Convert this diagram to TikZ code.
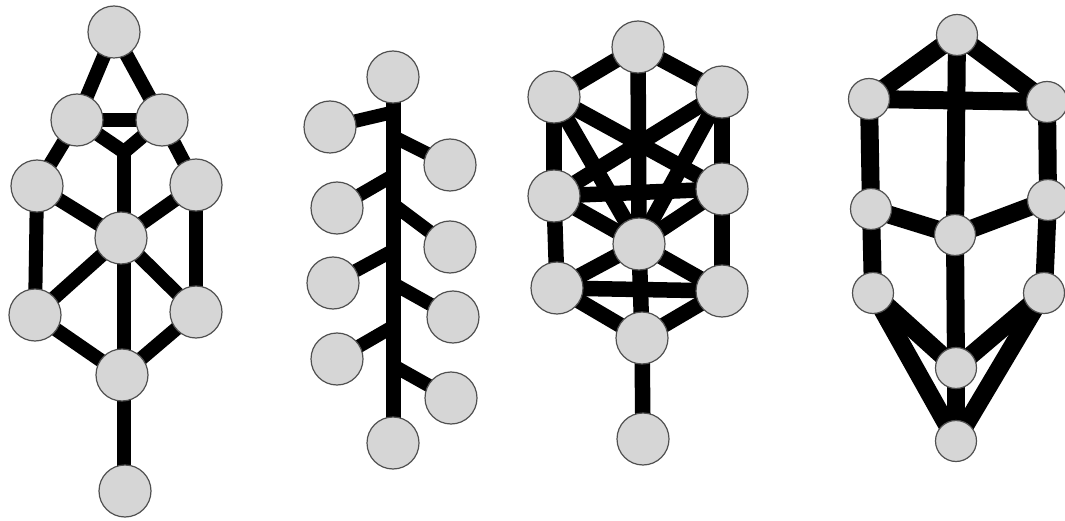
\documentclass[tikz,border=0pt]{standalone}
\usetikzlibrary{backgrounds}
\definecolor{nodefill}{RGB}{214,214,214}
\definecolor{nodeline}{RGB}{80,80,80}
\tikzset{
  ball/.style={circle,fill=nodefill,draw=nodeline,line width=1.2pt,inner sep=0pt,outer sep=0pt,minimum size=52pt},
  smallball/.style={ball,minimum size=41pt},
  edge/.style={line width=14pt,black},
  edgeC/.style={line width=15.5pt,black},
  edgeD/.style={line width=18pt,black},
  branch/.style={line width=13.5pt,black},
  trunk/.style={line width=15pt,black},
}
\begin{document}
\begin{tikzpicture}[x=1pt,y=-1pt]
\useasboundingbox (0,0) rectangle (1065,521);
% ---------- Diagram 1 ----------
\node[ball] (a-t)  at (114,32) {};
\node[ball] (a-ul) at (77,120) {};
\node[ball] (a-ur) at (162,120) {};
\node[ball] (a-ml) at (37,186) {};
\node[ball] (a-mr) at (196,185) {};
\node[ball] (a-c)  at (121,238) {};
\node[ball] (a-ll) at (35,315) {};
\node[ball] (a-lr) at (196,312) {};
\node[ball] (a-bm) at (122,375) {};
\node[ball] (a-b)  at (125,491) {};
\coordinate (a-j) at (124,152);
\coordinate (a-k) at (124,375);
\coordinate (a-m) at (124,480);
% ---------- Diagram 2 ----------
\node[ball] (b-t)  at (393,77) {};
\node[ball] (b-l1) at (330,127) {};
\node[ball] (b-r1) at (450,165) {};
\node[ball] (b-l2) at (337,208) {};
\node[ball] (b-r2) at (450,247) {};
\node[ball] (b-l3) at (333,283) {};
\node[ball] (b-r3) at (453,317) {};
\node[ball] (b-l4) at (337,359) {};
\node[ball] (b-r4) at (451,398) {};
\node[ball] (b-b)  at (393,443) {};
\coordinate (b-p1) at (394,112);
\coordinate (b-p2) at (394,137);
\coordinate (b-p3) at (394,175);
\coordinate (b-p4) at (394,205);
\coordinate (b-p5) at (394,250);
\coordinate (b-p6) at (394,284);
\coordinate (b-p7) at (394,326);
\coordinate (b-p8) at (394,366);
% ---------- Diagram 3 ----------
\node[ball] (c-t)  at (638,47) {};
\node[ball] (c-ul) at (554,97) {};
\node[ball] (c-ur) at (722,92) {};
\node[ball] (c-ml) at (554,196) {};
\node[ball] (c-mr) at (722,189) {};
\node[ball] (c-c)  at (639,244) {};
\node[ball] (c-ll) at (557,288) {};
\node[ball] (c-lr) at (722,291) {};
\node[ball] (c-bm) at (642,338) {};
\node[ball] (c-b)  at (643,439) {};
% ---------- Diagram 4 ----------
\node[smallball] (d-t)  at (957,35) {};
\node[smallball] (d-ul) at (869,99) {};
\node[smallball] (d-ur) at (1047,102) {};
\node[smallball] (d-ml) at (871,209) {};
\node[smallball] (d-mr) at (1048,200) {};
\node[smallball] (d-c)  at (955,235) {};
\node[smallball] (d-ll) at (873,293) {};
\node[smallball] (d-lr) at (1044,293) {};
\node[smallball] (d-bm) at (956,368) {};
\node[smallball] (d-b)  at (956,441) {};
\begin{pgfonlayer}{background}
% Diagram 1 edges
\draw[edge] (a-t.center) -- (a-ul.center);
\draw[edge] (a-t.center) -- (a-ur.center);
\draw[edge] (a-ul.center) -- (a-ur.center);
\draw[edge] (a-ul.center) -- (a-ml.center);
\draw[edge] (a-ur.center) -- (a-mr.center);
\draw[edge,line join=miter] (a-ul.center) -- (a-j) -- (a-ur.center);
\draw[edge] (a-j) -- (a-k);
\draw[edge] (a-ml.center) -- (a-c.center);
\draw[edge] (a-mr.center) -- (a-c.center);
\draw[edge] (a-ml.center) -- (a-ll.center);
\draw[edge] (a-mr.center) -- (a-lr.center);
\draw[edge] (a-c.center) -- (a-ll.center);
\draw[edge] (a-c.center) -- (a-lr.center);
\draw[edge] (a-ll.center) -- (a-bm.center);
\draw[edge] (a-lr.center) -- (a-bm.center);
\draw[edge] (a-k) -- (a-m);
% Diagram 2 edges
\draw[trunk] (b-t.center) -- (b-b.center);
\draw[branch] (b-l1.center) -- (b-p1);
\draw[branch] (b-p2) -- (b-r1.center);
\draw[branch] (b-l2.center) -- (b-p3);
\draw[branch] (b-p4) -- (b-r2.center);
\draw[branch] (b-l3.center) -- (b-p5);
\draw[branch] (b-p6) -- (b-r3.center);
\draw[branch] (b-l4.center) -- (b-p7);
\draw[branch] (b-p8) -- (b-r4.center);
% Diagram 3 edges
\draw[edgeC] (c-t.center) -- (c-ul.center);
\draw[edgeC] (c-t.center) -- (c-ur.center);
\draw[edgeC] (c-t.center) -- (c-c.center);
\draw[edgeC] (c-c.center) -- (c-bm.center);
\draw[edgeC] (c-ul.center) -- (c-ml.center);
\draw[edgeC] (c-ur.center) -- (c-mr.center);
\draw[edgeC] (c-ml.center) -- (c-ll.center);
\draw[edgeC] (c-mr.center) -- (c-lr.center);
\draw[edgeC] (c-ul.center) -- (c-mr.center);
\draw[edgeC] (c-ur.center) -- (c-ml.center);
\draw[edgeC] (c-ul.center) -- (c-c.center);
\draw[edgeC] (c-ur.center) -- (c-c.center);
\draw[edgeC] (c-ml.center) -- (c-mr.center);
\draw[edgeC] (c-ml.center) -- (c-c.center);
\draw[edgeC] (c-mr.center) -- (c-c.center);
\draw[edgeC] (c-c.center) -- (c-ll.center);
\draw[edgeC] (c-c.center) -- (c-lr.center);
\draw[edgeC] (c-ll.center) -- (c-lr.center);
\draw[edgeC] (c-ll.center) -- (c-bm.center);
\draw[edgeC] (c-lr.center) -- (c-bm.center);
\draw[edgeC] (c-bm.center) -- (c-b.center);
% Diagram 4 edges
\draw[edgeD] (d-t.center) -- (d-ul.center);
\draw[edgeD] (d-t.center) -- (d-ur.center);
\draw[edgeD] (d-ul.center) -- (d-ur.center);
\draw[edgeD] (d-t.center) -- (d-c.center);
\draw[edgeD] (d-c.center) -- (d-bm.center);
\draw[edgeD] (d-bm.center) -- (d-b.center);
\draw[edgeD] (d-ul.center) -- (d-ml.center);
\draw[edgeD] (d-ur.center) -- (d-mr.center);
\draw[edgeD] (d-ml.center) -- (d-c.center);
\draw[edgeD] (d-mr.center) -- (d-c.center);
\draw[edgeD] (d-ml.center) -- (d-ll.center);
\draw[edgeD] (d-mr.center) -- (d-lr.center);
\draw[edgeD] (d-ll.center) -- (d-bm.center);
\draw[edgeD] (d-lr.center) -- (d-bm.center);
\draw[edgeD] (d-ll.center) -- (d-b.center);
\draw[edgeD] (d-lr.center) -- (d-b.center);
\end{pgfonlayer}
\end{tikzpicture}
\end{document}
